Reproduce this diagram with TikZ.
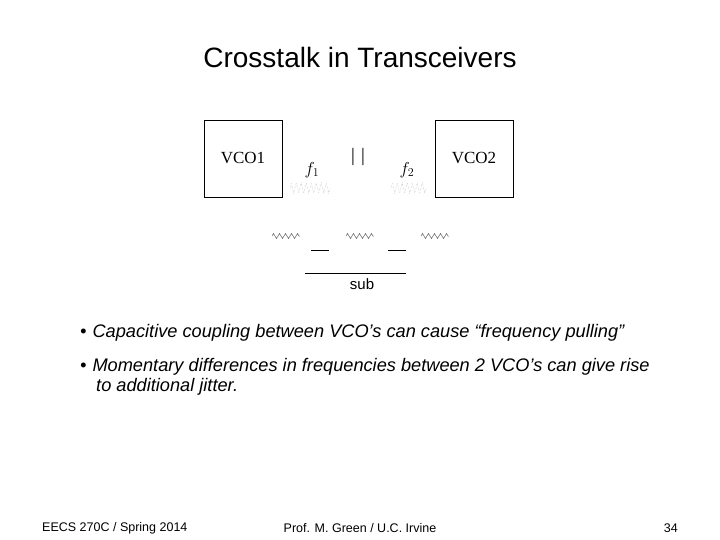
\documentclass[tikz,border=0pt]{standalone}
\usepackage{fontspec}
\setmainfont{Liberation Sans}
\newfontfamily\serif{Liberation Serif}
\usetikzlibrary{decorations.pathmorphing}
\begin{document}
\begin{tikzpicture}[x=1pt,y=-1pt,
  box/.style={draw,line width=0.8pt},
  zz/.style={decorate,decoration={zigzag,segment length=6,amplitude=2.5},line width=0.5pt,gray!70!black},
  wave/.style={decorate,decoration={zigzag,segment length=5,amplitude=5},densely dotted,gray!60},
  bul/.style={anchor=west,font=\fontsize{18.2}{20.5}\selectfont\itshape,align=left,inner sep=0},
  foot/.style={font=\fontsize{12.5}{14}\selectfont,inner sep=0}]
\useasboundingbox (0,0) rectangle (720,540);
\node (title) at (360,57) {\fontsize{28}{30}\selectfont Crosstalk in Transceivers};
\draw[box] (204,120) rectangle (282,197);
\node (v1) at (243,158) {\serif\fontsize{17}{18}\selectfont VCO1};
\draw[box] (435,120) rectangle (513,197);
\node (v2) at (474,158) {\serif\fontsize{17}{18}\selectfont VCO2};
\node (cap) at (358,157) {\serif\fontsize{19}{20}\selectfont |\,\,|};
\node (f1) at (312,170) {\serif\fontsize{18}{20}\selectfont $f_1$};
\node (f2) at (407,170) {\serif\fontsize{18}{20}\selectfont $f_2$};
\draw[wave] (290,188) -- (330,188);
\draw[wave] (391,188) -- (426,188);
\draw[zz] (272,236) -- (300,236);
\draw[zz] (346,236) -- (374,236);
\draw[zz] (421,236) -- (449,236);
\draw (311,250) -- (329,250);
\draw (388,250) -- (406,250);
\draw (305,273) -- (406,273);
\node (sub) at (362,284) {\fontsize{15}{17}\selectfont sub};
\node[bul] (b1) at (80,333) {\textbullet\hspace{6pt}Capacitive coupling between VCO’s can cause “frequency pulling”};
\node[bul,anchor=north west] (b2) at (80,358) {\textbullet\hspace{6pt}Momentary differences in frequencies between 2 VCO’s can give rise\\\hspace{16pt}to additional jitter.};
\node[foot,anchor=west] (fl) at (42,528) {EECS 270C / Spring 2014};
\node[foot] (fc) at (360,528) {Prof. M. Green / U.C. Irvine};
\node[foot,anchor=east] (fr) at (678,528) {34};
\end{tikzpicture}
\end{document}
